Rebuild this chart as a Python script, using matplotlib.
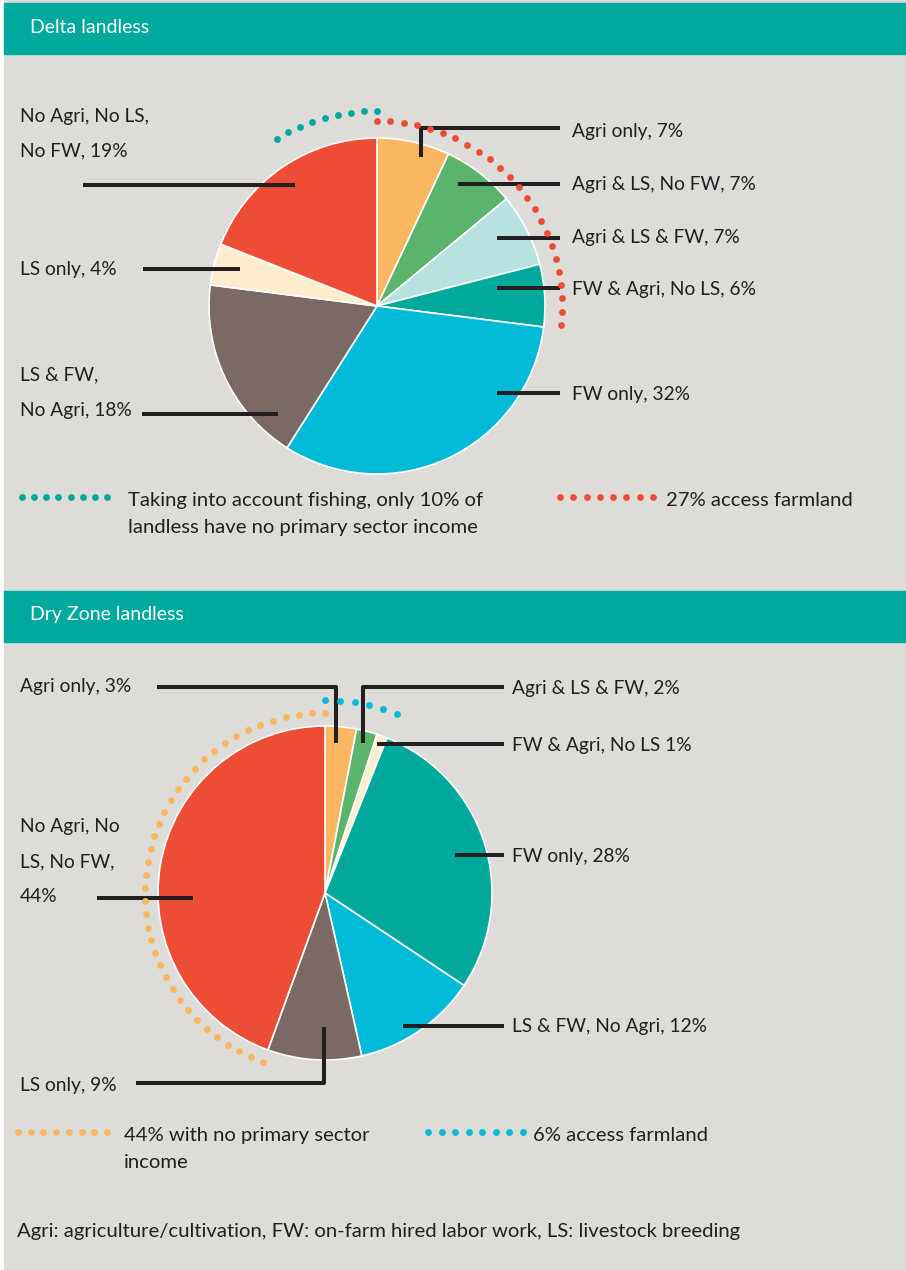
import numpy as np
import matplotlib
matplotlib.use("Agg")
import matplotlib.pyplot as plt
from matplotlib.patches import Rectangle

# --- data ---
delta_labels = ["Agri only", "Agri & LS, No FW", "Agri & LS & FW", "FW & Agri, No LS",
                "FW only", "LS & FW, No Agri", "LS only", "No Agri, No LS, No FW"]
delta_share = [7, 7, 7, 6, 32, 18, 4, 19]

dry_labels = ["Agri only", "Agri & LS & FW", "FW & Agri, No LS", "FW only",
              "LS & FW, No Agri", "LS only", "No Agri, No LS, No FW"]
dry_share = [3, 2, 1, 28, 12, 9, 44]

delta_colors = ["#fbb662", "#5bb46b", "#b8e2e0", "#00a99b", "#00bad8", "#7a6964", "#fdedcc", "#ee4d35"]
dry_colors = ["#fbb662", "#5bb46b", "#fdedcc", "#00a99b", "#00bad8", "#7a6964", "#ee4d35"]

TEAL = "#00a99d"
RED = "#ee4d35"
ORANGE = "#fbb662"
BLUE = "#00bad8"
INK = "#231f20"
BG = "#dddcd8"

plt.rcParams['font.family'] = ['Lato', 'DejaVu Sans']
FS = 13.8      # подписи секторов
FS_LEG = 14.6  # легенда и сноска

W, H = 906, 1270
fig = plt.figure(figsize=(W / 100, H / 100), dpi=100)
ax = fig.add_axes([0, 0, 1, 1])

# фон и заголовки
ax.add_patch(Rectangle((4, 0), W - 4, H, color=BG, zorder=0))
ax.add_patch(Rectangle((4, 3), W - 4, 51, color=TEAL, zorder=1))
ax.add_patch(Rectangle((4, 591), W - 4, 51, color=TEAL, zorder=1))
ax.text(30, 33, "Delta landless", color="white", fontsize=14, zorder=5)
ax.text(30, 620, "Dry Zone landless", color="white", fontsize=14, zorder=5)

# --- pies (y axis inverted: startangle -90 = top, counterclock=True = clockwise on screen) ---
wp = dict(edgecolor="white", linewidth=1.2)
ax.pie(delta_share, colors=delta_colors, startangle=-90, counterclock=True,
       center=(377, 306), radius=168, wedgeprops=wp, frame=True)
ax.pie(dry_share, colors=dry_colors, startangle=-90, counterclock=True,
       center=(325, 893), radius=167, wedgeprops=wp, frame=True)


def dotted_arc(cx, cy, r, a0, a1, color, step=13):
    # a0, a1 in degrees, clockwise from 12 o'clock
    n = int(abs(np.radians(a1 - a0)) * r / step) + 1
    a = np.radians(np.linspace(a0, a1, n))
    ax.scatter(cx + r * np.sin(a), cy - r * np.cos(a), s=24, color=color,
               linewidths=0, zorder=6)


def dotted_row(x0, x1, y, color):
    ax.scatter(np.linspace(x0, x1, 8), [y] * 8, s=24, color=color, linewidths=0, zorder=6)


dotted_arc(377, 306, 195, -31, 0, TEAL)
dotted_arc(377, 306, 185, 0, 96, RED)
dotted_arc(325, 893, 180, 200, 360, ORANGE)
dotted_arc(325, 893, 193, 0, 22, BLUE)


def leader(xs, ys):
    ax.plot(xs, ys, color=INK, lw=2.9, solid_capstyle="butt", zorder=4)


def label(x, y, s, fs=FS):
    ax.text(x, y, s, color=INK, fontsize=fs, va="baseline", zorder=5)


# --- Delta labels ---
leader([421, 421, 560], [157, 128, 128])
leader([458, 560], [184, 184])
leader([497, 560], [238, 238])
leader([497, 560], [288, 288])
leader([497, 560], [393, 393])
leader([83, 295], [185, 185])
leader([143, 240], [269, 269])
leader([142, 278], [414, 414])

label(572, 137, f"Agri only, {delta_share[0]}%")
label(572, 190, f"Agri & LS, No FW, {delta_share[1]}%")
label(572, 243, f"Agri & LS & FW, {delta_share[2]}%")
label(572, 295, f"FW & Agri, No LS, {delta_share[3]}%")
label(572, 400, f"FW only, {delta_share[4]}%")
label(20, 380, "LS & FW,")
label(20, 416, f"No Agri, {delta_share[5]}%")
label(20, 275, f"LS only, {delta_share[6]}%")
label(20, 122, "No Agri, No LS,")
label(20, 156, f"No FW, {delta_share[7]}%")

dotted_row(22, 107, 497, TEAL)
label(128, 506, "Taking into account fishing, only 10% of", FS_LEG)
label(128, 533, "landless have no primary sector income", FS_LEG)
dotted_row(560, 653, 497, RED)
label(666, 506, "27% access farmland", FS_LEG)

# --- Dry Zone labels ---
leader([157, 336, 336], [687, 687, 743])
leader([363, 363, 504], [743, 687, 687])
leader([377, 504], [744, 744])
leader([455, 504], [855, 855])
leader([403, 504], [1026, 1026])
leader([324, 324, 136], [1027, 1083, 1083])
leader([97, 193], [898, 898])

label(20, 692, f"Agri only, {dry_share[0]}%")
label(512, 694, f"Agri & LS & FW, {dry_share[1]}%")
label(512, 751, f"FW & Agri, No LS {dry_share[2]}%")
label(512, 862, f"FW only, {dry_share[3]}%")
label(512, 1032, f"LS & FW, No Agri, {dry_share[4]}%")
label(20, 1091, f"LS only, {dry_share[5]}%")
label(20, 832, "No Agri, No")
label(20, 867, "LS, No FW,")
label(20, 902, f"{dry_share[6]}%")

dotted_row(18, 107, 1132, ORANGE)
label(124, 1141, "44% with no primary sector", FS_LEG)
label(124, 1168, "income", FS_LEG)
dotted_row(428, 523, 1132, BLUE)
label(533, 1141, "6% access farmland", FS_LEG)

label(17, 1237, "Agri: agriculture/cultivation, FW: on-farm hired labor work, LS: livestock breeding", FS_LEG)

ax.set_xlim(0, W)
ax.set_ylim(H, 0)
ax.axis("off")
fig.savefig("out.png", dpi=100, facecolor="white")
